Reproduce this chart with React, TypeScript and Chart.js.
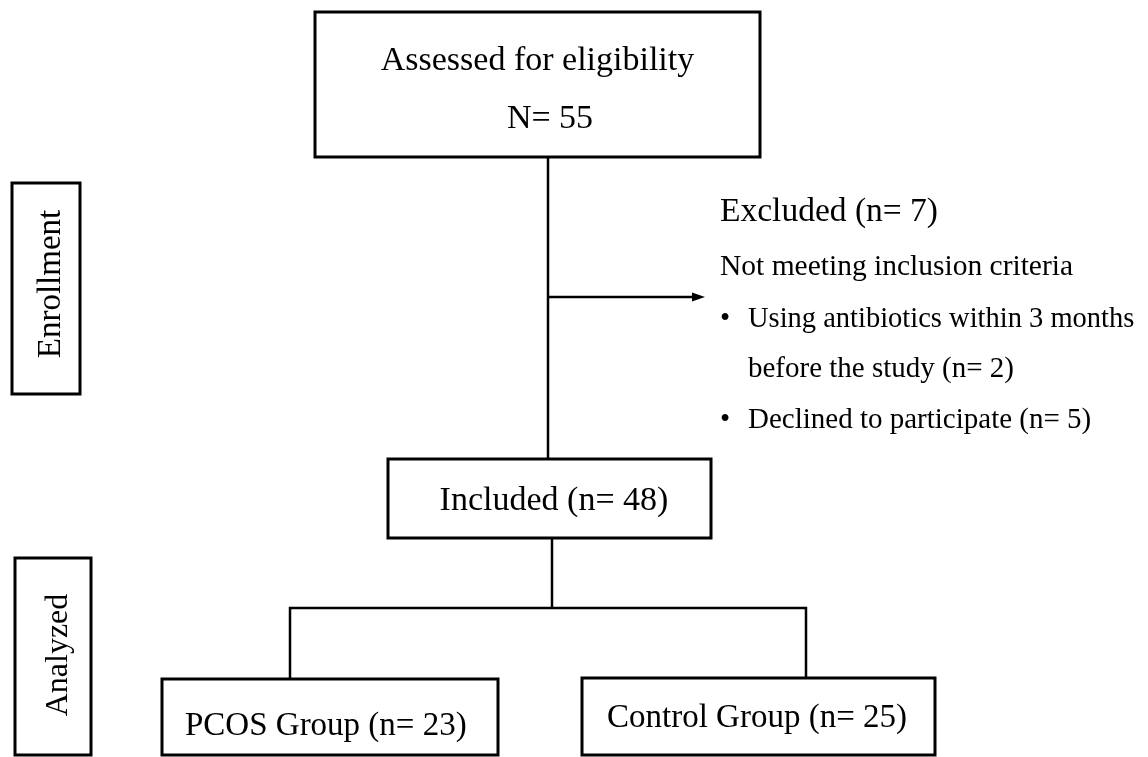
import { useEffect, useRef } from 'react';
import { Chart, registerables } from 'chart.js';

Chart.register(...registerables);

const W = 1148;
const H = 757;

// Flowchart nodes (chart units = reference pixels)
const boxIds = ['assessed', 'enrollment', 'included', 'analyzed', 'pcos', 'control'];
const boxLeft = [315, 12, 388, 15, 162, 582];
const boxRight = [760, 80, 711, 91, 498, 935];
const boxTop = [12, 183, 459, 558, 679, 678];
const boxBottom = [157, 394, 538, 755, 755, 755];

// Connectors (polylines)
const connectorPaths: number[][][] = [
  [[548, 157], [548, 459]],
  [[548, 297], [699, 297]],
  [[552, 538], [552, 608]],
  [[290, 679], [290, 608], [806, 608], [806, 678]],
];
const arrowTips = [[705, 297]];

// Texts
const labelTexts = [
  'Assessed for eligibility',
  'N= 55',
  'Excluded (n= 7)',
  'Not meeting inclusion criteria',
  '•',
  'Using antibiotics within 3 months',
  'before the study (n= 2)',
  '•',
  'Declined to participate (n= 5)',
  'Included (n= 48)',
  'PCOS Group (n= 23)',
  'Control Group (n= 25)',
  'Enrollment',
  'Analyzed',
];
const labelX = [537.5, 550, 720, 720, 725, 748, 748, 725, 748, 554, 185, 607, 60, 67];
const labelY = [70, 128, 221, 275, 327, 327, 377, 428, 428, 510, 735, 727, 284, 655];
const labelSize = [34, 34, 33.5, 29.5, 29, 28.5, 29, 29, 29, 34, 33, 33, 33, 32];
const labelAlign: CanvasTextAlign[] = ['center', 'center', 'left', 'left', 'center', 'left', 'left', 'center', 'left', 'center', 'left', 'left', 'center', 'center'];
const labelRotate = [0, 0, 0, 0, 0, 0, 0, 0, 0, 0, 0, 0, -90, -90];

const FONT = '"Liberation Serif", "Times New Roman", Times, serif';

const flowText = {
  id: 'flowText',
  afterDatasetsDraw(chart: any) {
    const { ctx, scales } = chart;
    const xs = scales.x;
    const ys = scales.y;
    ctx.save();
    ctx.fillStyle = '#000';
    ctx.textBaseline = 'alphabetic';
    labelTexts.forEach((t, i) => {
      const px = xs.getPixelForValue(labelX[i]);
      const py = ys.getPixelForValue(labelY[i]);
      ctx.save();
      ctx.font = `${labelSize[i]}px ${FONT}`;
      ctx.textAlign = labelAlign[i];
      ctx.translate(px, py);
      if (labelRotate[i]) ctx.rotate((labelRotate[i] * Math.PI) / 180);
      ctx.fillText(t, 0, 0);
      ctx.restore();
    });
    // arrow heads
    arrowTips.forEach(([tx, ty]) => {
      const px = xs.getPixelForValue(tx);
      const py = ys.getPixelForValue(ty);
      ctx.beginPath();
      ctx.moveTo(px, py);
      ctx.lineTo(px - 13, py - 4.5);
      ctx.lineTo(px - 13, py + 4.5);
      ctx.closePath();
      ctx.fill();
    });
    ctx.restore();
  },
};

export default function App() {
  const ref = useRef<HTMLCanvasElement | null>(null);

  useEffect(() => {
    if (!ref.current) return;
    const boxDatasets = boxIds.map((id, i) => ({
      label: id,
      data: [
        { x: boxLeft[i], y: boxTop[i] },
        { x: boxRight[i], y: boxTop[i] },
        { x: boxRight[i], y: boxBottom[i] },
        { x: boxLeft[i], y: boxBottom[i] },
        { x: boxLeft[i], y: boxTop[i] },
      ],
      showLine: true,
      borderColor: '#000',
      borderWidth: 3,
      borderJoinStyle: 'miter' as const,
      borderCapStyle: 'square' as const,
      pointRadius: 0,
      fill: false,
      tension: 0,
      clip: false as const,
    }));
    const connectorDatasets = connectorPaths.map((p, i) => ({
      label: 'connector' + i,
      data: p.map(([x, y]) => ({ x, y })),
      showLine: true,
      borderColor: '#000',
      borderWidth: 2.5,
      borderJoinStyle: 'miter' as const,
      borderCapStyle: 'butt' as const,
      pointRadius: 0,
      fill: false,
      tension: 0,
      clip: false as const,
    }));
    const chart = new Chart(ref.current, {
      type: 'scatter',
      data: { datasets: [...boxDatasets, ...connectorDatasets] as any },
      options: {
        animation: false,
        responsive: false,
        devicePixelRatio: 1,
        layout: { padding: 0 },
        plugins: { legend: { display: false }, tooltip: { enabled: false } },
        events: [],
        scales: {
          x: { type: 'linear', min: 0, max: W, display: false },
          y: { type: 'linear', min: 0, max: H, reverse: true, display: false },
        },
      },
      plugins: [flowText],
    });
    return () => chart.destroy();
  }, []);

  return (
    <div style={{ position: 'absolute', left: 0, top: 0, width: W, height: H, background: '#fff' }}>
      <canvas ref={ref} width={W} height={H} style={{ display: 'block', width: W, height: H }} />
    </div>
  );
}
